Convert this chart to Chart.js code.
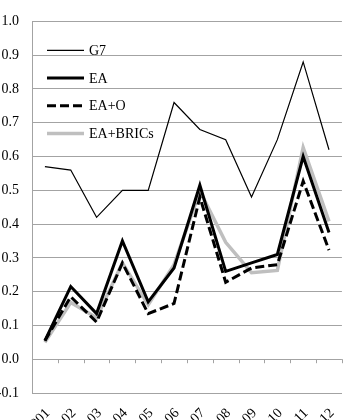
<!DOCTYPE html>
<html>
<head>
<meta charset="utf-8">
<script src="https://cdn.jsdelivr.net/npm/chart.js@4"></script>
<style>
  html, body { margin:0; padding:0; background:#fff; }
  body { width:353px; height:420px; overflow:hidden; position:relative; }
  #wrap { position:absolute; left:-6px; top:0; width:359px; height:420px; }
</style>
</head>
<body>
<div id="wrap"><canvas id="c" width="359" height="420"></canvas></div>
<script>
const categories = ['2001','02','03','04','05','06','07','08','09','10','11','12'];
const seriesNames = ['G7', 'EA', 'EA+O', 'EA+BRICs'];
const g7 =      [0.57, 0.56, 0.42, 0.50, 0.50, 0.76, 0.68, 0.65, 0.48, 0.65, 0.88, 0.62];
const ea =      [0.055, 0.215, 0.135, 0.35, 0.17, 0.27, 0.515, 0.26, 0.285, 0.31, 0.60, 0.375];
const eaO =     [0.055, 0.185, 0.11, 0.285, 0.135, 0.165, 0.48, 0.228, 0.27, 0.28, 0.527, 0.323];
const eaBrics = [0.05, 0.168, 0.123, 0.285, 0.161, 0.28, 0.498, 0.346, 0.256, 0.263, 0.627, 0.408];
const yMin = -0.1, yMax = 1.0, yStep = 0.1;

const FONT = 'Liberation Serif, Times New Roman, serif';
const GRID = '#a3a3a3';

const zeroTicks = {
  id: 'zeroTicks',
  afterDatasetsDraw(chart) {
    const xs = chart.scales.x, ys = chart.scales.y;
    const y0 = ys.getPixelForValue(0);
    const n = categories.length;
    const ctx = chart.ctx;
    ctx.save();
    ctx.strokeStyle = GRID;
    ctx.lineWidth = 1;
    ctx.beginPath();
    for (let i = 0; i <= n; i++) {
      const x = Math.round(xs.left + i * (xs.right - xs.left) / n) + 0.5;
      ctx.moveTo(x, y0);
      ctx.lineTo(x, y0 + 4);
    }
    ctx.stroke();
    ctx.restore();
  }
};

const insideLegend = {
  id: 'insideLegend',
  afterDraw(chart) {
    const ctx = chart.ctx, a = chart.chartArea;
    const x0 = a.left + 15, x1 = a.left + 52, tx = a.left + 57;
    ctx.save();
    ctx.font = '14px ' + FONT;
    ctx.textBaseline = 'middle';
    ctx.fillStyle = '#000';
    chart.data.datasets.forEach((ds, i) => {
      const y = a.top + 29 + i * 27.7;
      ctx.beginPath();
      ctx.strokeStyle = ds.borderColor;
      ctx.lineWidth = ds.borderWidth;
      ctx.setLineDash(ds.borderDash || []);
      ctx.moveTo(x0, y);
      ctx.lineTo(x1, y);
      ctx.stroke();
      ctx.setLineDash([]);
      ctx.fillText(ds.label, tx, y + 1);
    });
    ctx.restore();
  }
};

new Chart(document.getElementById('c'), {
  type: 'line',
  data: {
    labels: categories,
    datasets: [
      { label: seriesNames[0], data: g7, borderColor: '#000', borderWidth: 1.2, order: 1 },
      { label: seriesNames[1], data: ea, borderColor: '#000', borderWidth: 3, order: 2 },
      { label: seriesNames[2], data: eaO, borderColor: '#000', borderWidth: 3, borderDash: [9, 4], order: 3 },
      { label: seriesNames[3], data: eaBrics, borderColor: '#bfbfbf', borderWidth: 3.5, order: 4 }
    ]
  },
  options: {
    responsive: false,
    animation: false,
    events: [],
    layout: { padding: { top: 7, right: 3, left: 0, bottom: 0 } },
    elements: {
      point: { radius: 0 },
      line: { tension: 0, borderCapStyle: 'butt', borderJoinStyle: 'miter' }
    },
    plugins: { legend: { display: false }, tooltip: { enabled: false } },
    scales: {
      x: {
        offset: true,
        grid: { display: false, drawTicks: false },
        border: { display: true, color: GRID, width: 1 },
        ticks: {
          font: { family: FONT, size: 14 },
          color: '#000',
          maxRotation: 45, minRotation: 45,
          autoSkip: false,
          padding: 12,
          labelOffset: 3
        },
        afterFit(s) { s.height = 27; }
      },
      y: {
        min: yMin, max: yMax,
        grid: { color: GRID, lineWidth: 1, drawTicks: false },
        border: { display: true, color: GRID, width: 1 },
        ticks: {
          stepSize: yStep,
          font: { family: FONT, size: 14 },
          color: '#000',
          padding: 13,
          callback: v => Number(v).toFixed(1)
        },
        afterFit(s) { s.width = 38; }
      }
    }
  },
  plugins: [zeroTicks, insideLegend]
});
</script>
</body>
</html>
